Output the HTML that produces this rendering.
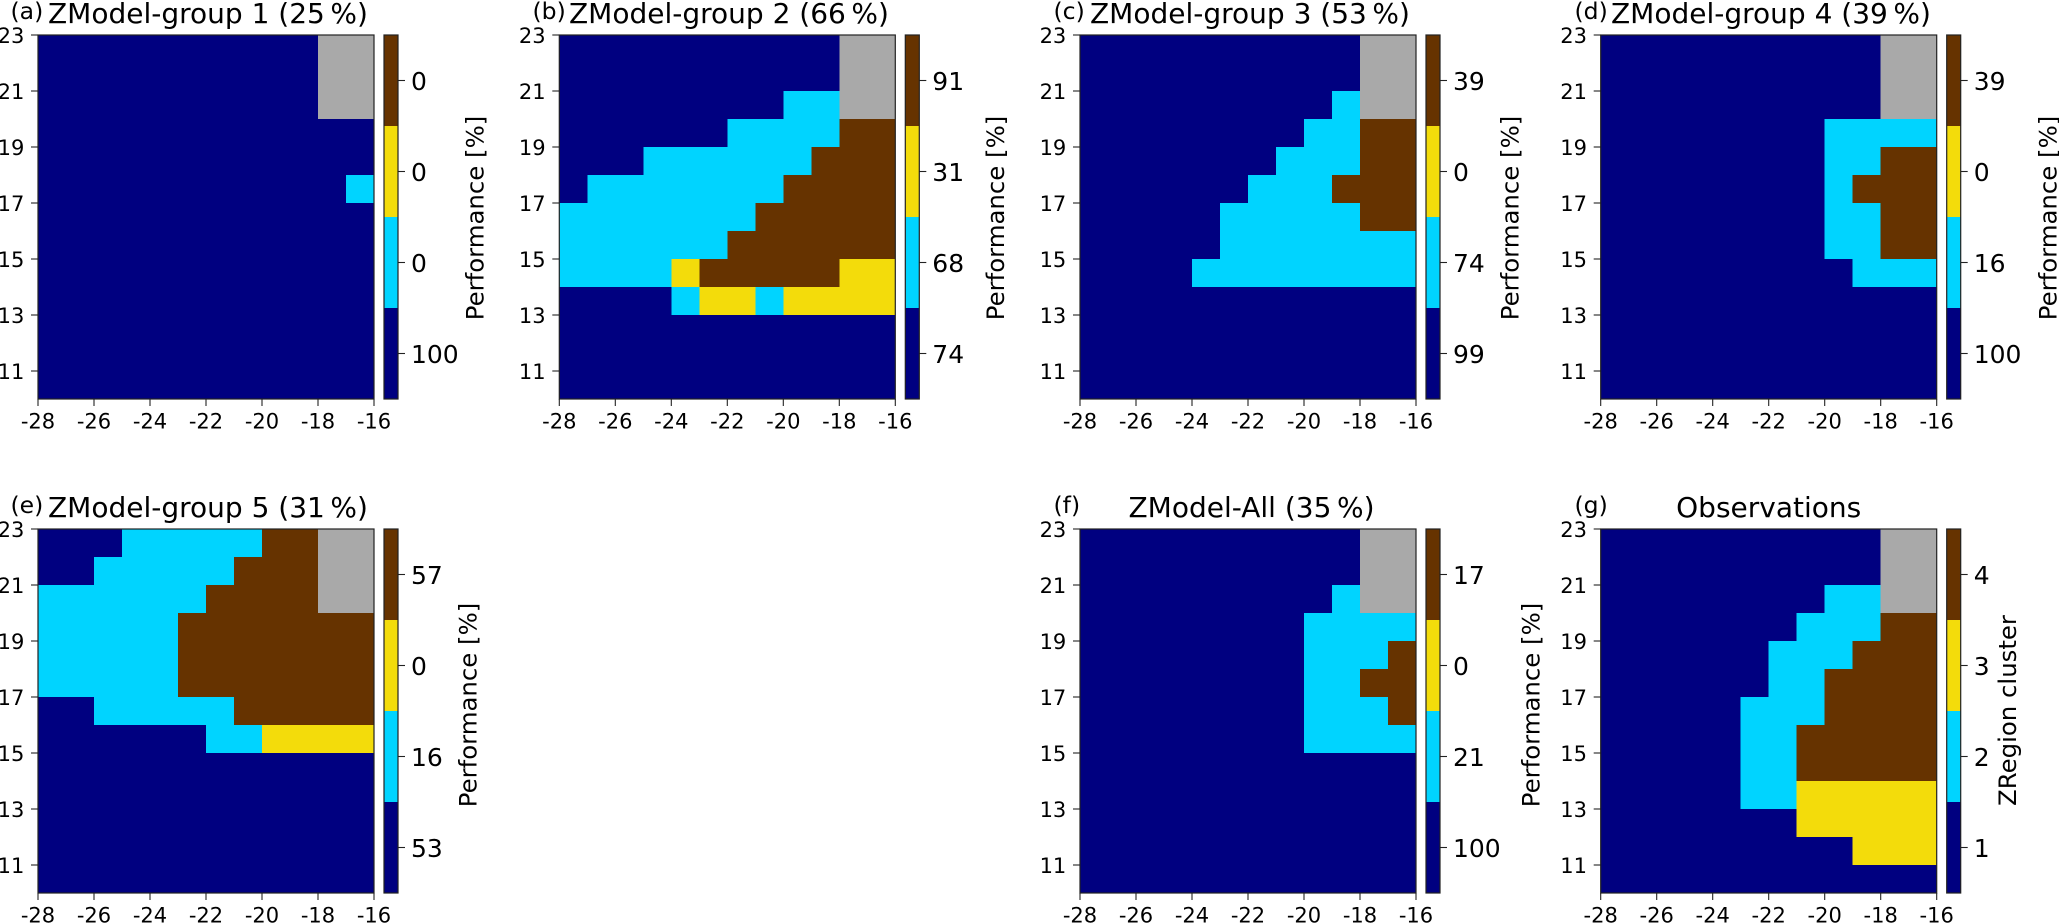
<!DOCTYPE html>
<html lang="en">
<head>
<meta charset="utf-8">
<title>ZModel groups performance maps</title>
<style>
html,body{margin:0;padding:0;background:#fff;}
svg{display:block;}
text{font-family:"DejaVu Sans","Liberation Sans",sans-serif;fill:#000;}
.title{font-size:28px;}
.tag{font-size:23.5px;}
.cblabel{font-size:24.4px;}
.tick{font-size:21px;}
.cbtick{font-size:25px;}
</style>
</head>
<body>
<svg id="figure" xmlns="http://www.w3.org/2000/svg" width="2059" height="923" viewBox="0 0 2059 923">
  <g id="panel-a">
    <text class="tag" x="10.5" y="19">(a)</text>
    <text class="title" x="48" y="23">ZModel-group 1 (25&#8201;%)</text>
    <text class="cblabel" transform="translate(483.3 218) rotate(-90)" text-anchor="middle">Performance [%]</text>
  </g>
  <g id="panel-b">
    <text class="tag" x="532.5" y="19">(b)</text>
    <text class="title" x="569" y="23">ZModel-group 2 (66&#8201;%)</text>
    <text class="cblabel" transform="translate(1004 218) rotate(-90)" text-anchor="middle">Performance [%]</text>
  </g>
  <g id="panel-c">
    <text class="tag" x="1053.5" y="19">(c)</text>
    <text class="title" x="1090" y="23">ZModel-group 3 (53&#8201;%)</text>
    <text class="cblabel" transform="translate(1518.3 218) rotate(-90)" text-anchor="middle">Performance [%]</text>
  </g>
  <g id="panel-d">
    <text class="tag" x="1574.5" y="19">(d)</text>
    <text class="title" x="1611" y="23">ZModel-group 4 (39&#8201;%)</text>
    <text class="cblabel" transform="translate(2056.7 218) rotate(-90)" text-anchor="middle">Performance [%]</text>
  </g>
  <g id="panel-e">
    <text class="tag" x="10.5" y="513">(e)</text>
    <text class="title" x="48" y="517">ZModel-group 5 (31&#8201;%)</text>
    <text class="cblabel" transform="translate(476.7 705) rotate(-90)" text-anchor="middle">Performance [%]</text>
  </g>
  <g id="panel-f">
    <text class="tag" x="1053.5" y="513">(f)</text>
    <text class="title" x="1128.5" y="517">ZModel-All (35&#8201;%)</text>
    <text class="cblabel" transform="translate(1539.3 705) rotate(-90)" text-anchor="middle">Performance [%]</text>
  </g>
  <g id="panel-g">
    <text class="tag" x="1574.5" y="513">(g)</text>
    <text class="title" x="1768.7" y="517" text-anchor="middle">Observations</text>
    <text class="cblabel" transform="translate(2016 710.5) rotate(-90)" text-anchor="middle">ZRegion cluster</text>
  </g>
</svg>
<script>
// Axis tick values
const xTickValues = [-28, -26, -24, -22, -20, -18, -16];
const yTickValues = [11, 13, 15, 17, 19, 21, 23];
const lonStart = -28;
const latTop = 23;

// Colour classes: 0 = masked (grey), 1..4 = clusters
const classIds = [1, 2, 3, 4];

// Colorbar tick labels, bottom to top
const cbTicksA = ["100", "0", "0", "0"];
const cbTicksB = ["74", "68", "31", "91"];
const cbTicksC = ["99", "74", "0", "39"];
const cbTicksD = ["100", "16", "0", "39"];
const cbTicksE = ["53", "16", "0", "57"];
const cbTicksF = ["100", "21", "0", "17"];
const cbTicksG = ["1", "2", "3", "4"];

// Cluster grids: rows run from lat 22 (top) to lat 10, columns from lon -28 to -17
const gridA = [
  [1,1,1,1,1,1,1,1,1,1,0,0],
  [1,1,1,1,1,1,1,1,1,1,0,0],
  [1,1,1,1,1,1,1,1,1,1,0,0],
  [1,1,1,1,1,1,1,1,1,1,1,1],
  [1,1,1,1,1,1,1,1,1,1,1,1],
  [1,1,1,1,1,1,1,1,1,1,1,2],
  [1,1,1,1,1,1,1,1,1,1,1,1],
  [1,1,1,1,1,1,1,1,1,1,1,1],
  [1,1,1,1,1,1,1,1,1,1,1,1],
  [1,1,1,1,1,1,1,1,1,1,1,1],
  [1,1,1,1,1,1,1,1,1,1,1,1],
  [1,1,1,1,1,1,1,1,1,1,1,1],
  [1,1,1,1,1,1,1,1,1,1,1,1]
];
const gridB = [
  [1,1,1,1,1,1,1,1,1,1,0,0],
  [1,1,1,1,1,1,1,1,1,1,0,0],
  [1,1,1,1,1,1,1,1,2,2,0,0],
  [1,1,1,1,1,1,2,2,2,2,4,4],
  [1,1,1,2,2,2,2,2,2,4,4,4],
  [1,2,2,2,2,2,2,2,4,4,4,4],
  [2,2,2,2,2,2,2,4,4,4,4,4],
  [2,2,2,2,2,2,4,4,4,4,4,4],
  [2,2,2,2,3,4,4,4,4,4,3,3],
  [1,1,1,1,2,3,3,2,3,3,3,3],
  [1,1,1,1,1,1,1,1,1,1,1,1],
  [1,1,1,1,1,1,1,1,1,1,1,1],
  [1,1,1,1,1,1,1,1,1,1,1,1]
];
const gridC = [
  [1,1,1,1,1,1,1,1,1,1,0,0],
  [1,1,1,1,1,1,1,1,1,1,0,0],
  [1,1,1,1,1,1,1,1,1,2,0,0],
  [1,1,1,1,1,1,1,1,2,2,4,4],
  [1,1,1,1,1,1,1,2,2,2,4,4],
  [1,1,1,1,1,1,2,2,2,4,4,4],
  [1,1,1,1,1,2,2,2,2,2,4,4],
  [1,1,1,1,1,2,2,2,2,2,2,2],
  [1,1,1,1,2,2,2,2,2,2,2,2],
  [1,1,1,1,1,1,1,1,1,1,1,1],
  [1,1,1,1,1,1,1,1,1,1,1,1],
  [1,1,1,1,1,1,1,1,1,1,1,1],
  [1,1,1,1,1,1,1,1,1,1,1,1]
];
const gridD = [
  [1,1,1,1,1,1,1,1,1,1,0,0],
  [1,1,1,1,1,1,1,1,1,1,0,0],
  [1,1,1,1,1,1,1,1,1,1,0,0],
  [1,1,1,1,1,1,1,1,2,2,2,2],
  [1,1,1,1,1,1,1,1,2,2,4,4],
  [1,1,1,1,1,1,1,1,2,4,4,4],
  [1,1,1,1,1,1,1,1,2,2,4,4],
  [1,1,1,1,1,1,1,1,2,2,4,4],
  [1,1,1,1,1,1,1,1,1,2,2,2],
  [1,1,1,1,1,1,1,1,1,1,1,1],
  [1,1,1,1,1,1,1,1,1,1,1,1],
  [1,1,1,1,1,1,1,1,1,1,1,1],
  [1,1,1,1,1,1,1,1,1,1,1,1]
];
const gridE = [
  [1,1,1,2,2,2,2,2,4,4,0,0],
  [1,1,2,2,2,2,2,4,4,4,0,0],
  [2,2,2,2,2,2,4,4,4,4,0,0],
  [2,2,2,2,2,4,4,4,4,4,4,4],
  [2,2,2,2,2,4,4,4,4,4,4,4],
  [2,2,2,2,2,4,4,4,4,4,4,4],
  [1,1,2,2,2,2,2,4,4,4,4,4],
  [1,1,1,1,1,1,2,2,3,3,3,3],
  [1,1,1,1,1,1,1,1,1,1,1,1],
  [1,1,1,1,1,1,1,1,1,1,1,1],
  [1,1,1,1,1,1,1,1,1,1,1,1],
  [1,1,1,1,1,1,1,1,1,1,1,1],
  [1,1,1,1,1,1,1,1,1,1,1,1]
];
const gridF = [
  [1,1,1,1,1,1,1,1,1,1,0,0],
  [1,1,1,1,1,1,1,1,1,1,0,0],
  [1,1,1,1,1,1,1,1,1,2,0,0],
  [1,1,1,1,1,1,1,1,2,2,2,2],
  [1,1,1,1,1,1,1,1,2,2,2,4],
  [1,1,1,1,1,1,1,1,2,2,4,4],
  [1,1,1,1,1,1,1,1,2,2,2,4],
  [1,1,1,1,1,1,1,1,2,2,2,2],
  [1,1,1,1,1,1,1,1,1,1,1,1],
  [1,1,1,1,1,1,1,1,1,1,1,1],
  [1,1,1,1,1,1,1,1,1,1,1,1],
  [1,1,1,1,1,1,1,1,1,1,1,1],
  [1,1,1,1,1,1,1,1,1,1,1,1]
];
const gridG = [
  [1,1,1,1,1,1,1,1,1,1,0,0],
  [1,1,1,1,1,1,1,1,1,1,0,0],
  [1,1,1,1,1,1,1,1,2,2,0,0],
  [1,1,1,1,1,1,1,2,2,2,4,4],
  [1,1,1,1,1,1,2,2,2,4,4,4],
  [1,1,1,1,1,1,2,2,4,4,4,4],
  [1,1,1,1,1,2,2,2,4,4,4,4],
  [1,1,1,1,1,2,2,4,4,4,4,4],
  [1,1,1,1,1,2,2,4,4,4,4,4],
  [1,1,1,1,1,2,2,3,3,3,3,3],
  [1,1,1,1,1,1,1,3,3,3,3,3],
  [1,1,1,1,1,1,1,1,1,3,3,3],
  [1,1,1,1,1,1,1,1,1,1,1,1]
];

const NS = "http://www.w3.org/2000/svg";
const palette = {0: "#a9a9a9", 1: "#000080", 2: "#00d4ff", 3: "#f3dc0b", 4: "#663300"};
const CELL = 28;
const PANEL_W = 336;
const PANEL_H = 364;
const CB_OFFSET = 346;
const CB_W = 14;

function make(tag, parent, attrs) {
  const el = document.createElementNS(NS, tag);
  for (const k in attrs) el.setAttribute(k, attrs[k]);
  parent.appendChild(el);
  return el;
}

function drawPanel(id, left, top, grid, cbTicks) {
  const host = document.getElementById(id);
  const xScale = lon => left + (lon - lonStart) * CELL;
  const yScale = lat => top + (latTop - lat) * CELL;
  const cbScale = v => top + (classIds[classIds.length - 1] + 0.5 - v) * (PANEL_H / classIds.length);

  // heatmap cells
  grid.forEach((row, r) => {
    row.forEach((value, c) => {
      const rect = make("rect", host, {
        x: xScale(lonStart + c), y: yScale(latTop - r),
        width: xScale(lonStart + c + 1) - xScale(lonStart + c),
        height: yScale(latTop - r - 1) - yScale(latTop - r),
        fill: palette[value], "shape-rendering": "crispEdges"
      });
      
      
    });
  });

  // plot frame
  const frame = make("rect", host, {x: left, y: top, width: PANEL_W, height: PANEL_H, fill: "none", stroke: "#222", "stroke-width": 1.2});
  
  

  // x axis
  xTickValues.forEach(v => {
    const x = xScale(v);
    const tick = make("line", host, {x1: x, x2: x, y1: top + PANEL_H, y2: top + PANEL_H + 7, stroke: "#222", "stroke-width": 1.1});
    
    
    const label = make("text", host, {x: x, y: top + PANEL_H + 29.5, "text-anchor": "middle", class: "tick"});
    label.textContent = String(v);
    
    
  });

  // y axis
  yTickValues.forEach(v => {
    const y = yScale(v);
    const tick = make("line", host, {x1: left - 7, x2: left, y1: y, y2: y, stroke: "#222", "stroke-width": 1.1});
    
    
    const label = make("text", host, {x: left - 13.7, y: y + 8, "text-anchor": "end", class: "tick"});
    label.textContent = String(v);
    
    
  });

  // colorbar
  const cbLeft = left + CB_OFFSET;
  classIds.forEach((v, i) => {
    const seg = make("rect", host, {
      x: cbLeft, y: cbScale(v + 0.5), width: CB_W, height: cbScale(v - 0.5) - cbScale(v + 0.5),
      fill: palette[v], "shape-rendering": "crispEdges"
    });
    
    
  });
  const cbFrame = make("rect", host, {x: cbLeft, y: top, width: CB_W, height: PANEL_H, fill: "none", stroke: "#222", "stroke-width": 1.2});
  
  
  classIds.forEach((v, i) => {
    const y = cbScale(v);
    const tick = make("line", host, {x1: cbLeft + CB_W, x2: cbLeft + CB_W + 7, y1: y, y2: y, stroke: "#222", "stroke-width": 1.1});
    
    
    const label = make("text", host, {x: cbLeft + CB_W + 13, y: y + 9.5, class: "cbtick"});
    label.textContent = cbTicks[i];
    
    
  });
}

drawPanel("panel-a", 38, 35, gridA, cbTicksA);
drawPanel("panel-b", 559.3, 35, gridB, cbTicksB);
drawPanel("panel-c", 1080, 35, gridC, cbTicksC);
drawPanel("panel-d", 1600.7, 35, gridD, cbTicksD);
drawPanel("panel-e", 38, 529, gridE, cbTicksE);
drawPanel("panel-f", 1080, 529, gridF, cbTicksF);
drawPanel("panel-g", 1600.7, 529, gridG, cbTicksG);
</script>
</body>
</html>
